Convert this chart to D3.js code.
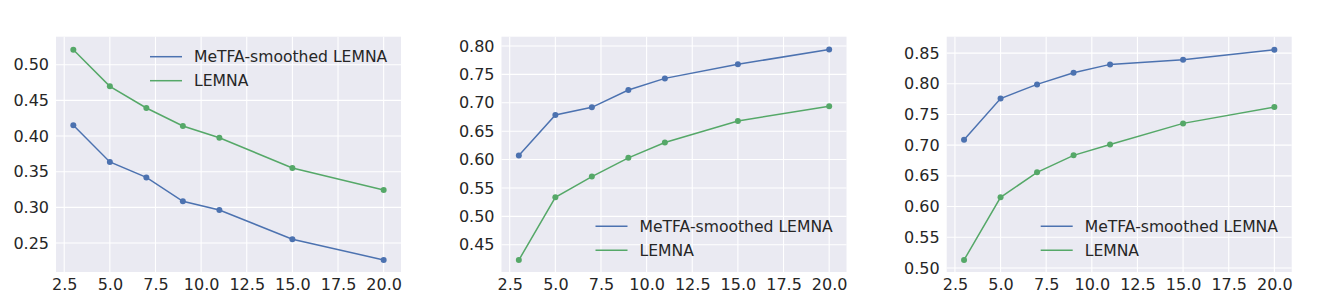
<!DOCTYPE html>
<html>
<head>
<meta charset="utf-8">
<script src="https://cdn.jsdelivr.net/npm/d3@7"></script>
<style>
  body { margin: 0; background: #fff; }
  text { font-family: "DejaVu Sans", sans-serif; fill: #262626; }
</style>
</head>
<body>
<div id="chart"></div>
<script>
const width = 1336;
const height = 306;

const blueColor = "#4C72B0";
const greenColor = "#55A868";
const bgColor = "#EAEAF2";

const xValues = [3, 5, 7, 9, 11, 15, 20];
const xTicks = [2.5, 5, 7.5, 10, 12.5, 15, 17.5, 20];
const seriesNames = ["MeTFA-smoothed LEMNA", "LEMNA"];

// panel 1
const metfa1 = [0.415, 0.3636, 0.342, 0.3085, 0.2963, 0.2552, 0.2262];
const lemna1 = [0.521, 0.4697, 0.4393, 0.414, 0.3976, 0.3552, 0.3243];
const yTicks1 = [0.25, 0.30, 0.35, 0.40, 0.45, 0.50];

// panel 2
const metfa2 = [0.607, 0.6785, 0.692, 0.7225, 0.743, 0.7678, 0.794];
const lemna2 = [0.423, 0.5335, 0.570, 0.603, 0.630, 0.668, 0.694];
const yTicks2 = [0.45, 0.50, 0.55, 0.60, 0.65, 0.70, 0.75, 0.80];

// panel 3
const metfa3 = [0.709, 0.776, 0.799, 0.818, 0.8316, 0.839, 0.8554];
const lemna3 = [0.513, 0.615, 0.6558, 0.6834, 0.701, 0.7355, 0.762];
const yTicks3 = [0.50, 0.55, 0.60, 0.65, 0.70, 0.75, 0.80, 0.85];

const panels = [
  {left: 56, blue: metfa1, green: lemna1, ticks: yTicks1, domain: [0.2093, 0.5393], legend: "top"},
  {left: 501.5, blue: metfa2, green: lemna2, ticks: yTicks2, domain: [0.402, 0.8164], legend: "bottom"},
  {left: 946.7, blue: metfa3, green: lemna3, ticks: yTicks3, domain: [0.4934, 0.8767], legend: "bottom"}
];

const plotW = 345;
const plotTop = 36.7;
const plotBottom = 272;

const svg = d3.select("#chart")
  .append("svg")
  .attr("width", width)
  .attr("height", height);

svg.append("rect").attr("width", width).attr("height", height).attr("fill", "#fff");

panels.forEach(function(p) {
  const g = svg.append("g").attr("transform", "translate(" + p.left + ",0)");

  const x = d3.scaleLinear().domain([2.05, 20.95]).range([0, plotW]);
  const y = d3.scaleLinear().domain(p.domain).range([plotBottom, plotTop]);

  g.append("rect")
    .attr("x", 0).attr("y", plotTop)
    .attr("width", plotW).attr("height", plotBottom - plotTop)
    .attr("fill", bgColor);

  // grid
  g.selectAll(".vgrid").data(xTicks).enter().append("line")
    .attr("x1", d => x(d)).attr("x2", d => x(d))
    .attr("y1", plotTop).attr("y2", plotBottom)
    .attr("stroke", "#fff").attr("stroke-width", 1.1);
  g.selectAll(".hgrid").data(p.ticks).enter().append("line")
    .attr("x1", 0).attr("x2", plotW)
    .attr("y1", d => y(d)).attr("y2", d => y(d))
    .attr("stroke", "#fff").attr("stroke-width", 1.1);

  // axes (labels only, seaborn style)
  const xAxis = g.append("g")
    .attr("transform", "translate(0," + plotBottom + ")")
    .call(d3.axisBottom(x).tickValues(xTicks).tickFormat(d3.format(".1f")).tickSize(0).tickPadding(7));
  const yAxis = g.append("g")
    .call(d3.axisLeft(y).tickValues(p.ticks).tickFormat(d3.format(".2f")).tickSize(0).tickPadding(7));
  [xAxis, yAxis].forEach(function(a) {
    a.select(".domain").remove();
    a.attr("font-size", null).attr("font-family", null);
    a.selectAll("text")
      .style("font-family", "DejaVu Sans")
      .style("font-size", "16px")
      .attr("fill", "#262626");
  });

  // lines + markers
  const series = [{vals: p.blue, color: blueColor}, {vals: p.green, color: greenColor}];
  const line = d3.line().x((d, i) => x(xValues[i])).y(d => y(d));
  series.forEach(function(s) {
    g.append("path")
      .datum(s.vals)
      .attr("d", line)
      .attr("fill", "none")
      .attr("stroke", s.color)
      .attr("stroke-width", 1.5);
    g.selectAll(null).data(s.vals).enter().append("circle")
      .attr("cx", (d, i) => x(xValues[i]))
      .attr("cy", d => y(d))
      .attr("r", 3)
      .attr("fill", s.color);
  });

  // legend
  const ly = p.legend == "top" ? 56.7 : 226.3;
  const lx = plotW - 251;
  seriesNames.forEach(function(name, i) {
    const yy = ly + i * 24;
    g.append("line")
      .attr("x1", lx).attr("x2", lx + 32)
      .attr("y1", yy).attr("y2", yy)
      .attr("stroke", i == 0 ? blueColor : greenColor)
      .attr("stroke-width", 1.5);
    g.append("text")
      .attr("x", lx + 44)
      .attr("y", yy)
      .attr("dy", "0.35em")
      .style("font-size", "15.6px")
      .text(name);
  });
});
</script>
</body>
</html>
